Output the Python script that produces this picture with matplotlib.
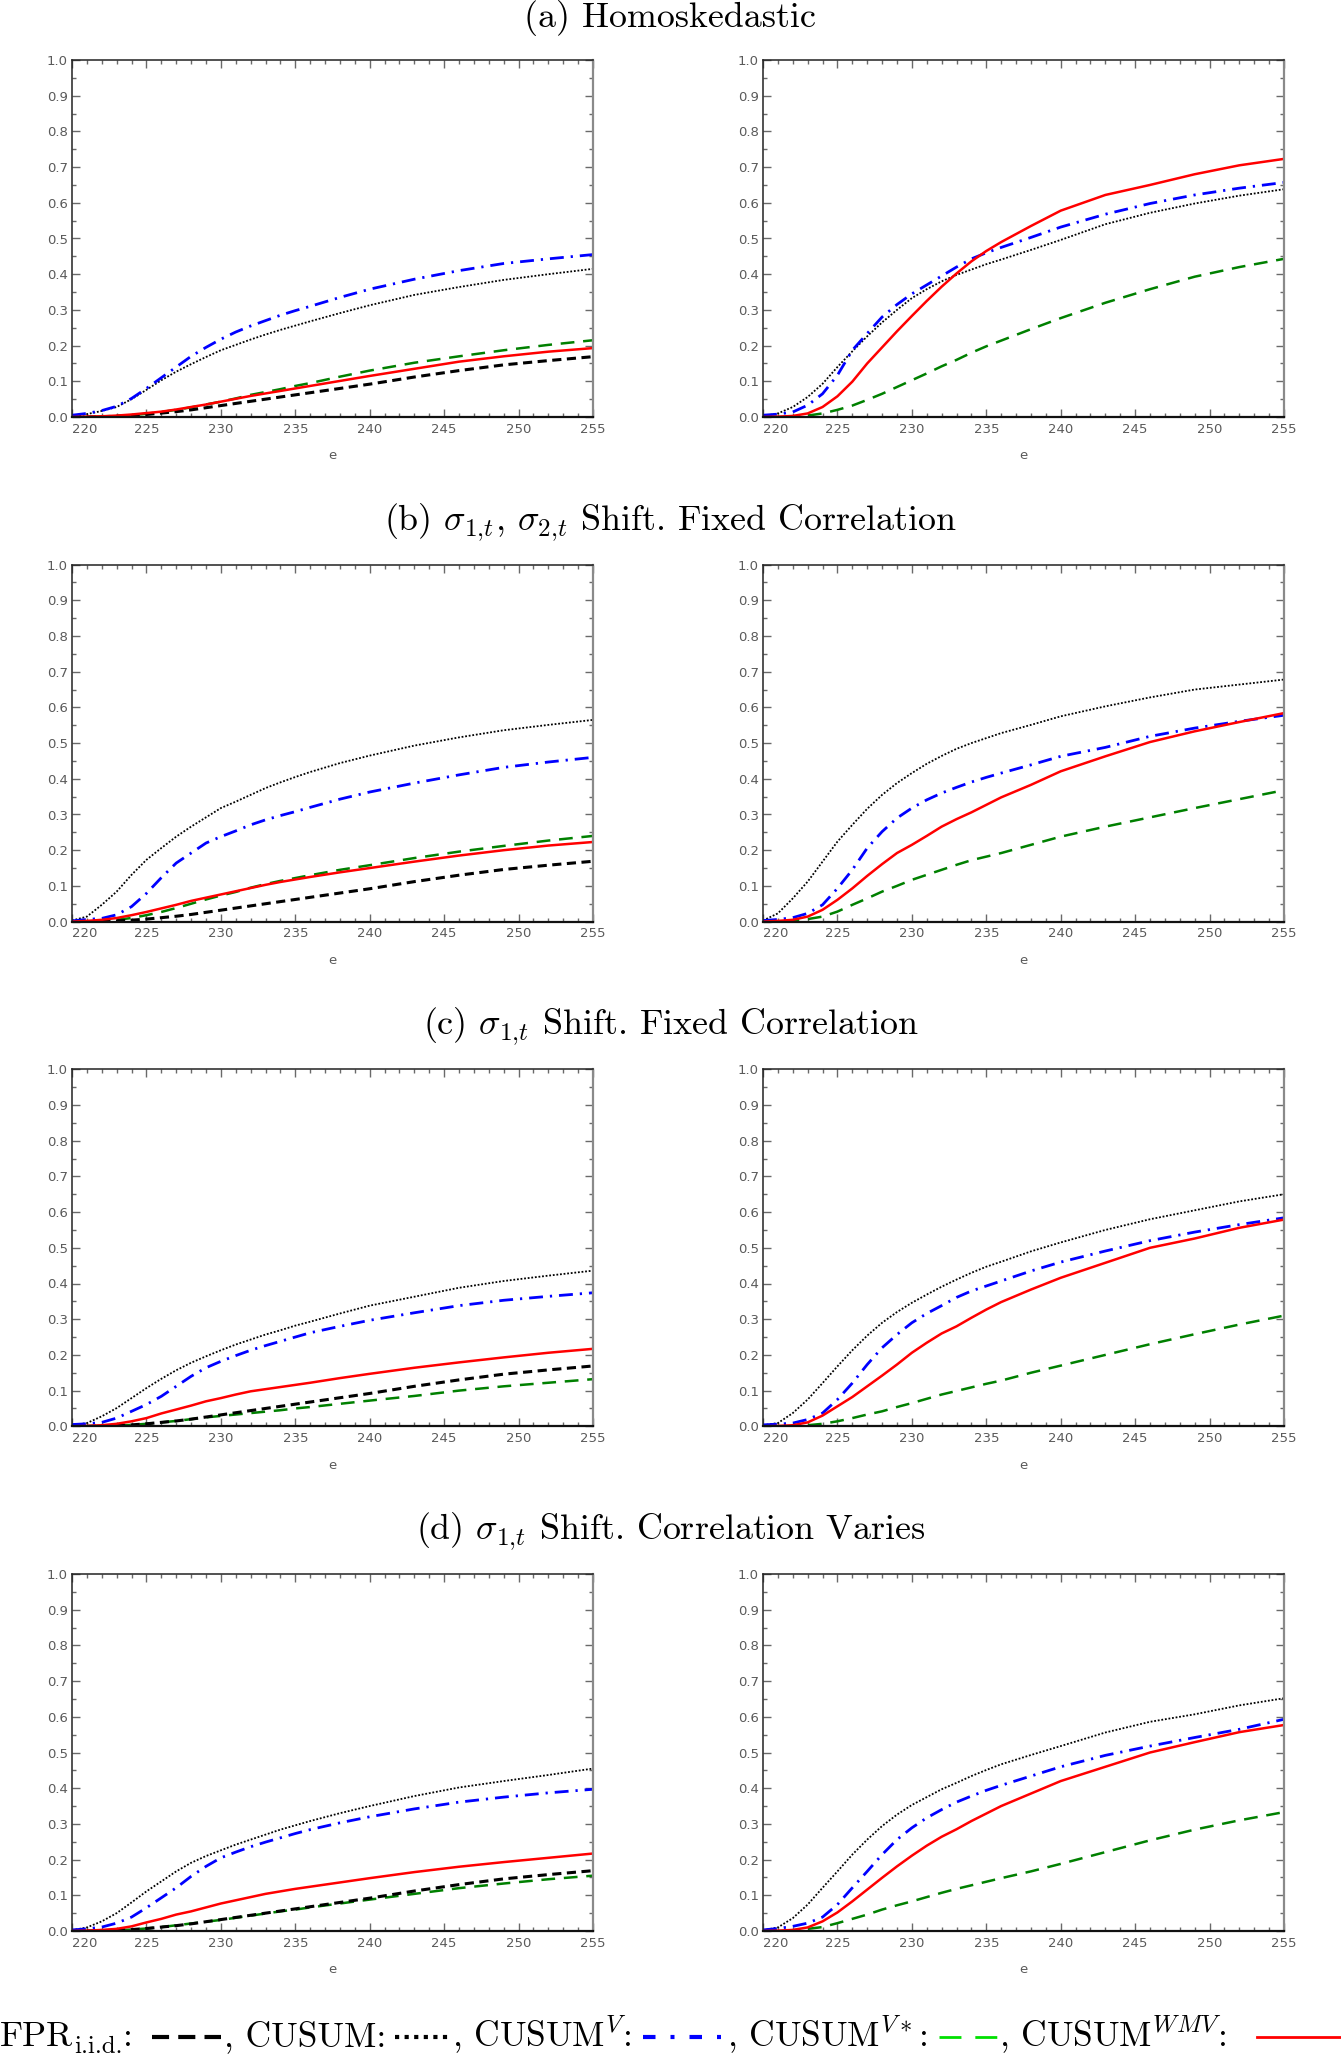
import matplotlib
matplotlib.use("Agg")
import matplotlib.pyplot as plt
from matplotlib.lines import Line2D
import numpy as np

plt.rcParams['mathtext.fontset'] = 'cm'
plt.rcParams['axes.formatter.use_mathtext'] = True

# ---------------- data ----------------
E = [220, 221, 222, 223, 224, 225, 226, 227, 228, 229, 230, 231, 232, 233,
     234, 235, 236, 238, 240, 243, 246, 249, 252, 255]

FPR_IID = [0, 0, 0.001, 0.002, 0.004, 0.007, 0.011, 0.015, 0.02, 0.026, 0.032, 0.038,
           0.044, 0.05, 0.056, 0.062, 0.068, 0.08, 0.092, 0.112, 0.13, 0.146, 0.158, 0.169]

# (a) Homoskedastic
A_L_CUSUM = [0.002, 0.008, 0.017, 0.028, 0.05, 0.076, 0.103, 0.127, 0.148, 0.168, 0.187, 0.202,
             0.217, 0.231, 0.244, 0.256, 0.268, 0.291, 0.313, 0.342, 0.364, 0.384, 0.4, 0.415]
A_L_V = [0.005, 0.01, 0.018, 0.03, 0.052, 0.08, 0.11, 0.14, 0.17, 0.195, 0.218, 0.238,
         0.255, 0.27, 0.285, 0.298, 0.31, 0.335, 0.358, 0.386, 0.41, 0.43, 0.443, 0.455]
A_L_VSTAR = [0, 0, 0.001, 0.003, 0.005, 0.009, 0.014, 0.02, 0.027, 0.035, 0.043, 0.052,
             0.062, 0.07, 0.078, 0.087, 0.095, 0.113, 0.13, 0.152, 0.17, 0.187, 0.202, 0.215]
A_L_WMV = [0, 0.001, 0.002, 0.004, 0.007, 0.011, 0.015, 0.021, 0.028, 0.035, 0.043, 0.051,
           0.059, 0.066, 0.073, 0.08, 0.087, 0.101, 0.115, 0.135, 0.155, 0.17, 0.183, 0.193]

A_R_CUSUM = [0.002, 0.01, 0.028, 0.056, 0.093, 0.14, 0.184, 0.226, 0.265, 0.3, 0.333, 0.358,
             0.38, 0.398, 0.413, 0.428, 0.441, 0.468, 0.496, 0.54, 0.572, 0.598, 0.62, 0.638]
A_R_V = [0.005, 0.008, 0.014, 0.033, 0.065, 0.117, 0.187, 0.234, 0.28, 0.315, 0.345, 0.37,
         0.395, 0.42, 0.443, 0.46, 0.475, 0.503, 0.532, 0.568, 0.598, 0.622, 0.641, 0.657]
A_R_VSTAR = [0, 0, 0.001, 0.004, 0.01, 0.02, 0.032, 0.048, 0.065, 0.084, 0.103, 0.122,
             0.142, 0.16, 0.18, 0.198, 0.214, 0.246, 0.277, 0.32, 0.358, 0.393, 0.42, 0.443]
A_R_WMV = [0, 0.001, 0.003, 0.01, 0.028, 0.058, 0.099, 0.15, 0.195, 0.24, 0.283, 0.325,
           0.365, 0.402, 0.436, 0.465, 0.49, 0.535, 0.578, 0.622, 0.65, 0.68, 0.705, 0.723]

# (b) sigma_1t, sigma_2t shift, fixed correlation
B_L_CUSUM = [0.003, 0.014, 0.047, 0.084, 0.131, 0.173, 0.206, 0.238, 0.266, 0.292, 0.318, 0.336,
             0.355, 0.374, 0.39, 0.405, 0.419, 0.444, 0.465, 0.493, 0.516, 0.536, 0.551, 0.565]
B_L_V = [0.002, 0.006, 0.009, 0.019, 0.042, 0.079, 0.123, 0.164, 0.192, 0.22, 0.238, 0.254,
         0.271, 0.285, 0.297, 0.308, 0.32, 0.343, 0.363, 0.388, 0.411, 0.432, 0.447, 0.46]
B_L_VSTAR = [0, 0, 0.001, 0.005, 0.01, 0.018, 0.027, 0.038, 0.05, 0.062, 0.073, 0.083,
             0.095, 0.105, 0.114, 0.122, 0.13, 0.145, 0.158, 0.178, 0.196, 0.212, 0.227, 0.24]
B_L_WMV = [0, 0.002, 0.005, 0.01, 0.018, 0.027, 0.037, 0.047, 0.058, 0.067, 0.076, 0.085,
           0.094, 0.103, 0.111, 0.118, 0.125, 0.138, 0.15, 0.168, 0.185, 0.2, 0.213, 0.223]

B_R_CUSUM = [0.003, 0.023, 0.065, 0.112, 0.168, 0.224, 0.271, 0.316, 0.355, 0.388, 0.416, 0.442,
             0.464, 0.484, 0.5, 0.514, 0.528, 0.551, 0.575, 0.603, 0.628, 0.65, 0.664, 0.678]
B_R_V = [0.003, 0.006, 0.011, 0.023, 0.047, 0.093, 0.145, 0.206, 0.252, 0.29, 0.318, 0.341,
         0.36, 0.376, 0.391, 0.404, 0.416, 0.439, 0.463, 0.488, 0.519, 0.542, 0.561, 0.578]
B_R_VSTAR = [0, 0, 0.002, 0.007, 0.014, 0.028, 0.047, 0.065, 0.084, 0.1, 0.117, 0.131,
             0.145, 0.159, 0.172, 0.182, 0.192, 0.215, 0.238, 0.266, 0.292, 0.318, 0.343, 0.368]
B_R_WMV = [0, 0.002, 0.005, 0.014, 0.033, 0.061, 0.093, 0.128, 0.161, 0.192, 0.215, 0.24,
           0.266, 0.287, 0.306, 0.327, 0.348, 0.383, 0.421, 0.463, 0.503, 0.533, 0.559, 0.584]

# (c) sigma_1t shift, fixed correlation
C_L_CUSUM = [0.003, 0.009, 0.028, 0.051, 0.079, 0.107, 0.133, 0.157, 0.178, 0.196, 0.213, 0.229,
             0.243, 0.257, 0.269, 0.282, 0.293, 0.316, 0.338, 0.363, 0.388, 0.407, 0.422, 0.436]
C_L_V = [0.005, 0.007, 0.011, 0.023, 0.042, 0.061, 0.084, 0.112, 0.14, 0.164, 0.182, 0.198,
         0.213, 0.226, 0.238, 0.25, 0.262, 0.28, 0.297, 0.318, 0.338, 0.353, 0.364, 0.374]
C_L_VSTAR = [0, 0, 0.001, 0.002, 0.004, 0.007, 0.011, 0.015, 0.02, 0.025, 0.029, 0.033,
             0.037, 0.041, 0.045, 0.05, 0.054, 0.063, 0.072, 0.085, 0.1, 0.112, 0.122, 0.132]
C_L_WMV = [0, 0.001, 0.003, 0.007, 0.014, 0.023, 0.036, 0.047, 0.058, 0.07, 0.079, 0.089,
           0.098, 0.104, 0.11, 0.116, 0.122, 0.135, 0.147, 0.164, 0.179, 0.193, 0.206, 0.217]

C_R_CUSUM = [0.003, 0.009, 0.037, 0.075, 0.121, 0.168, 0.213, 0.254, 0.29, 0.32, 0.346, 0.369,
             0.391, 0.411, 0.43, 0.447, 0.461, 0.49, 0.515, 0.55, 0.58, 0.605, 0.63, 0.65]
C_R_V = [0.004, 0.006, 0.009, 0.019, 0.037, 0.075, 0.121, 0.173, 0.22, 0.257, 0.29, 0.316,
         0.338, 0.361, 0.379, 0.393, 0.407, 0.435, 0.46, 0.491, 0.52, 0.544, 0.565, 0.584]
C_R_VSTAR = [0, 0, 0, 0.003, 0.007, 0.014, 0.023, 0.033, 0.042, 0.054, 0.065, 0.077,
             0.089, 0.099, 0.109, 0.119, 0.128, 0.15, 0.17, 0.2, 0.23, 0.258, 0.285, 0.31]
C_R_WMV = [0, 0.001, 0.003, 0.011, 0.03, 0.056, 0.082, 0.112, 0.142, 0.173, 0.206, 0.234,
           0.26, 0.28, 0.304, 0.327, 0.348, 0.383, 0.416, 0.458, 0.5, 0.526, 0.556, 0.579]

# (d) sigma_1t shift, correlation varies
D_L_CUSUM = [0.002, 0.01, 0.027, 0.05, 0.08, 0.111, 0.139, 0.167, 0.191, 0.21, 0.226, 0.242,
             0.256, 0.27, 0.284, 0.296, 0.308, 0.33, 0.35, 0.378, 0.402, 0.42, 0.437, 0.455]
D_L_V = [0.003, 0.006, 0.011, 0.022, 0.039, 0.065, 0.093, 0.121, 0.153, 0.181, 0.205, 0.221,
         0.236, 0.249, 0.261, 0.273, 0.284, 0.303, 0.32, 0.342, 0.361, 0.375, 0.387, 0.397]
D_L_VSTAR = [0, 0, 0.001, 0.002, 0.004, 0.007, 0.011, 0.016, 0.021, 0.026, 0.031, 0.037,
             0.043, 0.049, 0.055, 0.06, 0.066, 0.077, 0.088, 0.104, 0.12, 0.133, 0.145, 0.155]
D_L_WMV = [0, 0.001, 0.003, 0.006, 0.013, 0.024, 0.034, 0.046, 0.055, 0.066, 0.077, 0.086,
           0.095, 0.104, 0.111, 0.118, 0.124, 0.136, 0.148, 0.165, 0.18, 0.193, 0.205, 0.217]

D_R_CUSUM = [0.002, 0.01, 0.036, 0.074, 0.121, 0.167, 0.214, 0.256, 0.294, 0.326, 0.353, 0.375,
             0.397, 0.415, 0.434, 0.451, 0.467, 0.493, 0.518, 0.556, 0.586, 0.607, 0.632, 0.652]
D_R_V = [0.003, 0.007, 0.013, 0.022, 0.039, 0.074, 0.121, 0.167, 0.214, 0.256, 0.289, 0.317,
         0.34, 0.361, 0.378, 0.394, 0.408, 0.434, 0.46, 0.492, 0.518, 0.542, 0.565, 0.593]
D_R_VSTAR = [0, 0, 0.002, 0.006, 0.011, 0.022, 0.034, 0.046, 0.06, 0.072, 0.083, 0.095,
             0.107, 0.118, 0.128, 0.138, 0.148, 0.167, 0.188, 0.221, 0.254, 0.284, 0.31, 0.333]
D_R_WMV = [0, 0.001, 0.003, 0.01, 0.027, 0.052, 0.083, 0.116, 0.149, 0.181, 0.211, 0.239,
           0.264, 0.285, 0.308, 0.329, 0.35, 0.385, 0.42, 0.46, 0.5, 0.529, 0.557, 0.577]

TITLES = [r"(a) Homoskedastic",
          r"(b) $\sigma_{1{,}t}$, $\sigma_{2{,}t}$ Shift. Fixed Correlation",
          r"(c) $\sigma_{1{,}t}$ Shift. Fixed Correlation",
          r"(d) $\sigma_{1{,}t}$ Shift. Correlation Varies"]

X_TICKS = [220, 225, 230, 235, 240, 245, 250, 255]
Y_TICKS = [0.0, 0.1, 0.2, 0.3, 0.4, 0.5, 0.6, 0.7, 0.8, 0.9, 1.0]

# ---------------- styles ----------------
STY_FPR = dict(color='black', lw=2.2, linestyle=(0, (3.0, 1.8)))
STY_CUSUM = dict(color='black', lw=1.3, linestyle=(0, (1.0, 1.0)))
STY_V = dict(color='#0000ff', lw=2.0, linestyle=(0, (5.0, 2.5, 0.8, 2.5)))
STY_VSTAR = dict(color='#008000', lw=1.8, linestyle=(0, (5.5, 3.5)))
STY_WMV = dict(color='#ff0000', lw=1.8, linestyle='-')

W, H = 1341, 2056
fig = plt.figure(figsize=(W / 100, H / 100), dpi=100)

LEFT_X = 72 / W
RIGHT_X = 763 / W
AX_W = 521 / W
AX_H = 357 / H
ROW_BOTTOM = [1 - 417 / H, 1 - 921.6 / H, 1 - 1426.3 / H, 1 - 1931 / H]
TITLE_Y = [1 - 18 / H, 1 - 522 / H, 1 - 1026 / H, 1 - 1531 / H]

panels = [
    [(FPR_IID, A_L_CUSUM, A_L_V, A_L_VSTAR, A_L_WMV), (None, A_R_CUSUM, A_R_V, A_R_VSTAR, A_R_WMV)],
    [(FPR_IID, B_L_CUSUM, B_L_V, B_L_VSTAR, B_L_WMV), (None, B_R_CUSUM, B_R_V, B_R_VSTAR, B_R_WMV)],
    [(FPR_IID, C_L_CUSUM, C_L_V, C_L_VSTAR, C_L_WMV), (None, C_R_CUSUM, C_R_V, C_R_VSTAR, C_R_WMV)],
    [(FPR_IID, D_L_CUSUM, D_L_V, D_L_VSTAR, D_L_WMV), (None, D_R_CUSUM, D_R_V, D_R_VSTAR, D_R_WMV)],
]

TICK_COLOR = '#6a6a6a'
LABEL_COLOR = '#5a5a5a'


def style_axes(ax):
    ax.set_xlim(220, 255)
    ax.set_ylim(0, 1.0)
    ax.set_xticks(X_TICKS)
    ax.set_xticks(np.arange(220, 256, 1), minor=True)
    ax.set_yticks(Y_TICKS)
    ax.set_yticks(np.arange(0, 1.001, 0.05), minor=True)
    ax.set_xticklabels([str(v) for v in X_TICKS])
    ax.set_yticklabels([f"{v:.1f}" for v in Y_TICKS])
    ax.tick_params(which='both', direction='in', top=True, right=True,
                   color=TICK_COLOR, width=1.0)
    ax.tick_params(which='major', length=6, labelsize=9.5, labelcolor=LABEL_COLOR, pad=4)
    ax.tick_params(which='minor', length=3)
    ax.tick_params(axis='y', which='major', pad=3)
    for lab in ax.get_xticklabels():
        lab.set_fontfamily('DejaVu Sans')
        if lab.get_text() == '220':
            lab.set_horizontalalignment('left')
    for lab in ax.get_yticklabels():
        lab.set_fontfamily('DejaVu Sans')
    ax.spines['left'].set_color('#222222')
    ax.spines['top'].set_color('#222222')
    ax.spines['bottom'].set_color('#111111')
    ax.spines['right'].set_color('#8a8a8a')
    ax.spines['left'].set_linewidth(1.1)
    ax.spines['top'].set_linewidth(1.1)
    ax.spines['bottom'].set_linewidth(1.6)
    ax.spines['right'].set_linewidth(1.6)
    ax.set_xlabel('e', fontsize=9.5, color=LABEL_COLOR, family='DejaVu Sans', labelpad=10)


for r in range(4):
    for c in range(2):
        ax = fig.add_axes([LEFT_X if c == 0 else RIGHT_X, ROW_BOTTOM[r], AX_W, AX_H])
        fpr, cus, v, vs, wmv = panels[r][c]
        ax.plot(E, cus, **STY_CUSUM)
        ax.plot(E, vs, **STY_VSTAR)
        if fpr is not None:
            ax.plot(E, fpr, **STY_FPR)
        ax.plot(E, v, **STY_V)
        ax.plot(E, wmv, **STY_WMV)
        style_axes(ax)
    fig.text(0.5, TITLE_Y[r], TITLES[r], ha='center', va='center',
             fontsize=25.9, family='cmr10')

# ---------------- bottom legend line ----------------
renderer = fig.canvas.get_renderer()
LEG_FS = 25.5
base_y = 2046  # text baseline, pixels from top
line_y = 2037  # sample line height, pixels from top


def fy(py):
    return 1 - py / H


# "FPR" + subscript "i.i.d." + ":"
t = fig.text(0 / W, fy(base_y), "FPR", ha='left', va='baseline', fontsize=LEG_FS, family='cmr10')
bb = t.get_window_extent(renderer)
t = fig.text((bb.x1 + 1) / W, fy(base_y + 7), "i.i.d.", ha='left', va='baseline',
             fontsize=LEG_FS * 0.7, family='cmr10')
bb = t.get_window_extent(renderer)
fig.text((bb.x1 + 1) / W, fy(base_y), ":", ha='left', va='baseline', fontsize=LEG_FS, family='cmr10')

pieces = [
    (224, r", CUSUM:"),
    (452, r", CUSUM$^{V}$:"),
    (727, r", CUSUM$^{V*}$:"),
    (999, r", CUSUM$^{WMV}$:"),
]
text_ends = []
for px, txt in pieces:
    t = fig.text(px / W, fy(base_y), txt, ha='left', va='baseline', fontsize=LEG_FS, family='cmr10')
    text_ends.append(t.get_window_extent(renderer).x1)

blue_start = text_ends[1] + 11
samples = [
    (152, 221, dict(color='black', lw=3.0, linestyle=(0, (4.1, 2.2)))),
    (395, 448, dict(color='black', lw=3.0, linestyle=(0, (1.0, 1.3)))),
    (blue_start, 725, dict(color='#0000ff', lw=3.0, linestyle=(0, (3.0, 3.6, 0.96, 3.6)))),
    (939, 997, dict(color='#00e000', lw=2.0, linestyle=(0, (7.9, 5.0)))),
    (1257, 1341, dict(color='#ff0000', lw=2.0, linestyle='-')),
]
for x0, x1, sty in samples:
    fig.add_artist(Line2D([x0 / W, x1 / W], [fy(line_y), fy(line_y)],
                          transform=fig.transFigure, **sty))

fig.savefig('out.png', dpi=100)
